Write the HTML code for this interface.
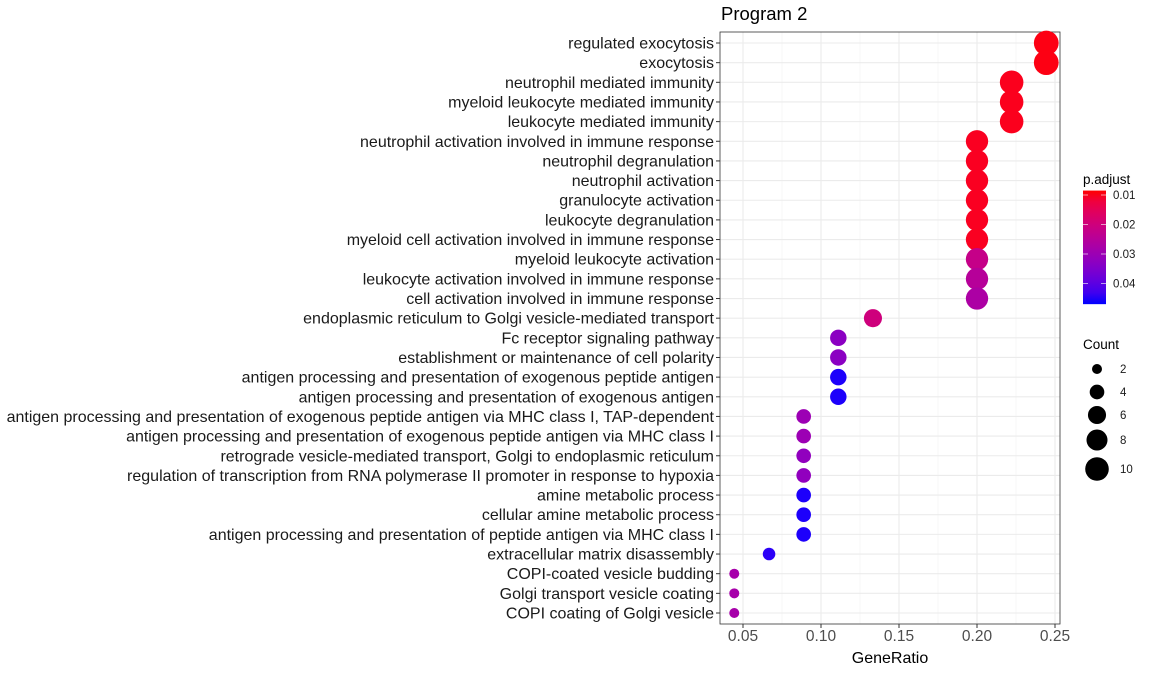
<!DOCTYPE html>
<html><head><meta charset="utf-8"><style>
body{margin:0;background:#fff;font-family:"Liberation Sans",sans-serif;}
svg text{font-family:"Liberation Sans",sans-serif;}
</style></head><body>
<svg id="chart" width="1152" height="672">
<defs><linearGradient id="grad" x1="0" y1="0" x2="0" y2="1"></linearGradient></defs>
</svg>
<script>
const terms=["regulated exocytosis","exocytosis","neutrophil mediated immunity","myeloid leukocyte mediated immunity","leukocyte mediated immunity","neutrophil activation involved in immune response","neutrophil degranulation","neutrophil activation","granulocyte activation","leukocyte degranulation","myeloid cell activation involved in immune response","myeloid leukocyte activation","leukocyte activation involved in immune response","cell activation involved in immune response","endoplasmic reticulum to Golgi vesicle-mediated transport","Fc receptor signaling pathway","establishment or maintenance of cell polarity","antigen processing and presentation of exogenous peptide antigen","antigen processing and presentation of exogenous antigen","antigen processing and presentation of exogenous peptide antigen via MHC class I, TAP-dependent","antigen processing and presentation of exogenous peptide antigen via MHC class I","retrograde vesicle-mediated transport, Golgi to endoplasmic reticulum","regulation of transcription from RNA polymerase II promoter in response to hypoxia","amine metabolic process","cellular amine metabolic process","antigen processing and presentation of peptide antigen via MHC class I","extracellular matrix disassembly","COPI-coated vesicle budding","Golgi transport vesicle coating","COPI coating of Golgi vesicle"];
const counts=[11,11,10,10,10,9,9,9,9,9,9,9,9,9,6,5,5,5,5,4,4,4,4,4,4,4,3,2,2,2];
const geneRatio=[0.2444,0.2444,0.2222,0.2222,0.2222,0.2,0.2,0.2,0.2,0.2,0.2,0.2,0.2,0.2,0.1333,0.1111,0.1111,0.1111,0.1111,0.0889,0.0889,0.0889,0.0889,0.0889,0.0889,0.0889,0.0667,0.0444,0.0444,0.0444];
const padj=[0.009,0.009,0.0095,0.0095,0.0095,0.0098,0.0098,0.0098,0.0098,0.0098,0.0098,0.022,0.025,0.027,0.02,0.033,0.033,0.046,0.046,0.03,0.03,0.032,0.032,0.046,0.046,0.046,0.045,0.028,0.028,0.028];
const xTicks=[0.05,0.10,0.15,0.20,0.25];
const cTicks=[0.01,0.02,0.03,0.04];
const sizeTicks=[2,4,6,8,10];

const NS="http://www.w3.org/2000/svg";
const svg=document.getElementById('chart');
function mk(t,a,p){const e=document.createElementNS(NS,t);for(const k in a)e.setAttribute(k,a[k]);(p||svg).appendChild(e);return e;}
const L=720,R=1060,T=32,B=624;
const x=v=>743+(v-0.05)*1560;
const y=i=>43+i*(613-43)/29;
const cMin=0.0085,cMax=0.047;
function col(p){let t=(p-cMin)/(cMax-cMin);t=Math.max(0,Math.min(1,t));const r=Math.round(255*Math.pow(1-t,0.6)),b=Math.round(255*Math.pow(t,0.6));return `rgb(${r},0,${b})`;}
const rad=c=>Math.sqrt(25+14.25*(c-2));
const cy=p=>195+(p-0.01)*2950;

mk('rect',{x:L,y:T,width:R-L,height:B-T,fill:'#fff'});
const grid=mk('g',{});


for(let i=0;i<xTicks.length-1;i++){const xm=x((xTicks[i]+xTicks[i+1])/2);mk('line',{x1:xm,x2:xm,y1:T,y2:B,stroke:'#f2f2f2','stroke-width':0.6},grid);}
xTicks.forEach(v=>mk('line',{x1:x(v),x2:x(v),y1:T,y2:B,stroke:'#ebebeb','stroke-width':1.1},grid));
terms.forEach((t,i)=>mk('line',{x1:L,x2:R,y1:y(i),y2:y(i),stroke:'#ebebeb','stroke-width':1.1},grid));
mk('rect',{x:L,y:T,width:R-L,height:B-T,fill:'none',stroke:'#333','stroke-width':0.8});

terms.forEach((t,i)=>{
 const lb=mk('text',{x:714,y:y(i)+5.5,'text-anchor':'end','font-size':16,fill:'#1a1a1a'});lb.textContent=t;
 
 
 mk('line',{x1:716,x2:L,y1:y(i),y2:y(i),stroke:'#333'});
 const d=mk('circle',{cx:x(geneRatio[i]),cy:y(i),r:rad(counts[i]),fill:col(padj[i])});
 
 
});
xTicks.forEach(v=>{mk('line',{x1:x(v),x2:x(v),y1:B,y2:B+4,stroke:'#333'});
 const t=mk('text',{x:x(v),y:641,'text-anchor':'middle','font-size':15.5,fill:'#4d4d4d'});t.textContent=v.toFixed(2);
 
 });
const xt=mk('text',{x:890,y:663,'text-anchor':'middle','font-size':16});xt.textContent='GeneRatio';


const tt=mk('text',{x:721,y:20,'font-size':18.5});tt.textContent='Program 2';



const g=document.getElementById('grad');
for(let k=0;k<=10;k++){const p=cMin+(cMax-cMin)*k/10;mk('stop',{offset:k/10,'stop-color':col(p)},g);}
const lt=mk('text',{x:1083,y:184,'font-size':13.5});lt.textContent='p.adjust';


const cb=mk('rect',{x:1083,y:cy(cMin),width:23,height:cy(cMax)-cy(cMin),fill:'url(#grad)'});


cTicks.forEach(v=>{mk('line',{x1:1083,x2:1088,y1:cy(v),y2:cy(v),stroke:'#fff','stroke-opacity':0.6});mk('line',{x1:1101,x2:1106,y1:cy(v),y2:cy(v),stroke:'#fff','stroke-opacity':0.6});
 const t=mk('text',{x:1113,y:cy(v)+4,'font-size':11.5,fill:'#1a1a1a'});t.textContent=v.toFixed(2);});
const st=mk('text',{x:1083,y:349,'font-size':13.5});st.textContent='Count';


const sy=[369,392,415,440,469];
sizeTicks.forEach((c,k)=>{const e=mk('circle',{cx:1097,cy:sy[k],r:rad(c),fill:'#000'});
 
 
 const t=mk('text',{x:1120,y:sy[k]+4,'font-size':11.5,fill:'#1a1a1a'});t.textContent=c;});
</script>
</body></html>
